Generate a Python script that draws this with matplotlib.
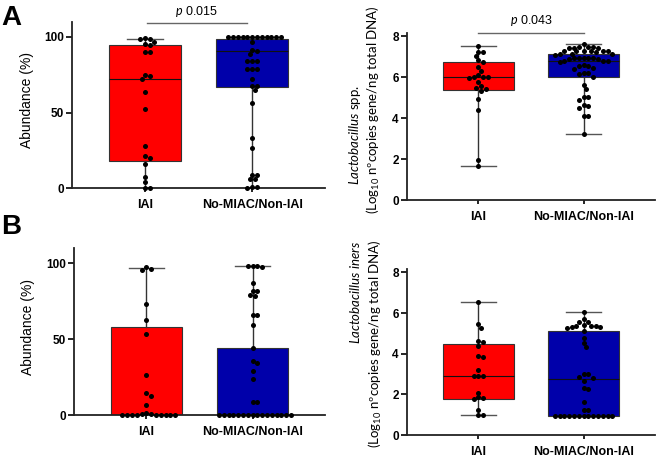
import matplotlib
matplotlib.use('Agg')
import matplotlib.pyplot as plt
import numpy as np

plt.rcParams['font.family'] = ['Liberation Sans', 'DejaVu Sans']
plt.rcParams['mathtext.fontset'] = 'custom'
plt.rcParams['mathtext.rm'] = 'Lato'
plt.rcParams['mathtext.it'] = 'Lato:italic'

groups = ['IAI', 'No-MIAC/Non-IAI']
box_colors = ['#FF0000', '#0000AA']

# panel A, left: abundance (%)
abund_a_iai = [99.0, 98.8, 98.5, 96.6, 95.0, 94.8, 90.0, 89.8, 74.5, 74.0, 71.9,
               63.9, 52.4, 28.1, 21.6, 20.3, 15.9, 7.7, 4.0, 0.5, 0.0]
abund_a_non = [100, 100, 100, 100, 100, 100, 100, 100, 100, 100, 100, 100,
               96.5, 91.0, 90.5, 88.5, 84.0, 84.0, 84.0, 79.0, 79.0, 79.0, 72.0,
               67.5, 67.5, 64.8, 56.0, 33.2, 26.5, 8.8, 8.8, 6.2, 6.2, 1.1, 1.1, 0.0]
# panel A, right: Lactobacillus spp. (log10 copies)
spp_iai = [7.51, 7.24, 7.20, 7.04, 6.83, 6.75, 6.47, 6.28, 6.08, 6.00, 5.98, 5.98,
           5.97, 5.77, 5.58, 5.45, 5.40, 5.33, 4.91, 4.37, 1.94, 1.64]
spp_non = [7.62, 7.46, 7.45, 7.44, 7.43, 7.45, 7.44, 7.28, 7.27, 7.26, 7.25, 7.28,
           7.26, 7.24, 7.12, 7.10, 7.13, 7.11, 6.92, 6.91, 6.93, 6.90, 6.92, 6.89,
           6.91, 6.78, 6.76, 6.74, 6.77, 6.55, 6.57, 6.53, 6.42, 6.40, 6.18, 6.20,
           6.16, 6.02, 5.61, 5.40, 5.05, 5.02, 4.88, 4.63, 4.60, 4.50, 4.12, 4.10, 3.22]
# panel B, left: abundance (%)
abund_b_iai = [97.5, 96.5, 96.0, 73.4, 63.0, 53.7, 26.5, 14.8, 12.6, 6.6,
               1.0, 0.5, 0.3, 0, 0, 0, 0, 0, 0, 0, 0, 0.8]
abund_b_non = [98.6, 98.4, 98.2, 97.6, 87.0, 82.0, 81.6, 79.2, 78.8, 66.0, 65.8,
               59.7, 44.2, 35.8, 34.3, 29.2, 23.9, 8.5, 8.3,
               0, 0, 0, 0, 0, 0, 0, 0, 0, 0, 0, 0, 0, 0, 0, 0]
# panel B, right: Lactobacillus iners (log10 copies)
iners_iai = [6.53, 5.47, 5.27, 4.60, 4.55, 4.38, 3.87, 3.82, 3.22, 2.92, 2.90, 2.90,
             2.07, 1.85, 1.80, 1.78, 1.25, 0.97, 0.97]
iners_non = [6.05, 5.73, 5.58, 5.55, 5.40, 5.38, 5.36, 5.34, 5.32, 5.30, 5.25, 5.10,
             4.78, 4.54, 4.34, 3.02, 2.98, 2.85, 2.82, 2.68, 2.30, 2.27, 1.64, 1.23,
             1.22] + [0.93] * 13

# box stats: q1, median, q3, min, max
stats_a_left = [(17.7, 71.9, 94.6, 0.0, 98.8), (66.8, 90.9, 98.8, 0.0, 100.0)]
stats_a_right = [(5.37, 6.00, 6.72, 1.64, 7.51), (6.02, 6.78, 7.12, 3.22, 7.61)]
stats_b_left = [(0.0, 0.0, 58.2, 0.0, 97.1), (0.0, 0.0, 44.2, 0.0, 98.4)]
stats_b_right = [(1.77, 2.92, 4.49, 0.97, 6.53), (0.93, 2.74, 5.13, 0.93, 6.06)]


def swarm_x(ax, center, vals, dot_px):
    trans = ax.transData
    vals = np.asarray(vals, dtype=float)
    pts = trans.transform(np.column_stack([np.full(len(vals), center), vals]))
    step = dot_px * 0.5
    placed = []
    xs = np.zeros(len(vals))
    for i in np.argsort(-vals, kind='stable'):
        px, py = pts[i]
        k = 0
        while True:
            off = ((k + 1) // 2) * step * (1 if k % 2 else -1)
            ok = all((px + off - qx) ** 2 + (py - qy) ** 2 >= (dot_px * 0.92) ** 2
                     for qx, qy in placed)
            if ok:
                break
            k += 1
        placed.append((px + off, py))
        xs[i] = trans.inverted().transform((px + off, py))[0]
    return xs


def draw_panel(ax, stats, data, ylim, yticks):
    ax.set_xlim(-0.68, 1.68)
    ax.set_ylim(*ylim)
    bxp_stats = []
    for q1, med, q3, lo, hi in stats:
        bxp_stats.append({'q1': q1, 'med': med, 'q3': q3, 'whislo': lo,
                          'whishi': hi, 'fliers': []})
    bp = ax.bxp(bxp_stats, positions=[0, 1], widths=0.67, patch_artist=True,
                showfliers=False, manage_ticks=False,
                boxprops=dict(edgecolor='#333333', linewidth=0.8),
                medianprops=dict(color='#111111', linewidth=0.8),
                whiskerprops=dict(color='#333333', linewidth=1.0),
                capprops=dict(color='#555555', linewidth=1.0),
                capwidths=0.33)
    for patch, c in zip(bp['boxes'], box_colors):
        patch.set_facecolor(c)
    for pos, vals in enumerate(data):
        xs = swarm_x(ax, pos, vals, 4.8)
        ax.scatter(xs, vals, s=13, color='black', zorder=5, linewidths=0,
                   clip_on=False)
    ax.spines['top'].set_visible(False)
    ax.spines['right'].set_visible(False)
    for side in ['left', 'bottom']:
        ax.spines[side].set_linewidth(1.3)
        ax.spines[side].set_color('#222222')
    ax.set_yticks(yticks)
    ax.set_xticks([0, 1])
    ax.set_xticklabels(groups, fontsize=9, fontweight='bold')
    ax.tick_params(axis='y', labelsize=8.5, length=4, width=1.2, pad=2)
    ax.tick_params(axis='x', length=3, width=1.2, pad=5)
    for lab in ax.get_yticklabels():
        lab.set_fontweight('bold')


W, H = 657, 459
fig = plt.figure(figsize=(W / 100, H / 100), dpi=100)


def rect(x0, y_top, x1, y0):
    return [x0 / W, 1 - y0 / H, (x1 - x0) / W, (y0 - y_top) / H]


ax1 = fig.add_axes(rect(72, 21.7, 325, 188.3))
ax2 = fig.add_axes(rect(407, 33, 655, 200))
ax3 = fig.add_axes(rect(74, 248.3, 325, 415))
ax4 = fig.add_axes(rect(407, 269.3, 655, 435))

draw_panel(ax1, stats_a_left, [abund_a_iai, abund_a_non], (0, 110), [0, 50, 100])
draw_panel(ax2, stats_a_right, [spp_iai, spp_non], (0, 8.15), [0, 2, 4, 6, 8])
draw_panel(ax3, stats_b_left, [abund_b_iai, abund_b_non], (0, 110), [0, 50, 100])
draw_panel(ax4, stats_b_right, [iners_iai, iners_non], (0, 8.15), [0, 2, 4, 6, 8])

# significance brackets
ax1.plot([0.02, 0.95], [109, 109], color='#666666', lw=1, clip_on=False)
ax1.text(0.485, 117, r'$\mathit{p}$ 0.015', ha='center', va='center', fontsize=9)
ax2.plot([0, 1], [8.16, 8.16], color='#666666', lw=1, clip_on=False)
ax2.text(0.5, 8.78, r'$\mathit{p}$ 0.043', ha='center', va='center', fontsize=9)

# axis titles
fig.text(27 / W, 1 - 100 / H, 'Abundance (%)', rotation=90, ha='center',
         va='center', fontsize=10)
fig.text(28 / W, 1 - 327 / H, 'Abundance (%)', rotation=90, ha='center',
         va='center', fontsize=10)
fig.text(355 / W, 1 - 135 / H, r'$\mathit{Lactobacillus}$ spp.', rotation=90,
         ha='center', va='center', fontsize=9.5, family='Lato')
fig.text(373 / W, 1 - 110 / H, r'(Log$_{10}$ nºcopies gene/ng total DNA)',
         rotation=90, ha='center', va='center', fontsize=9.5, family='Lato')
fig.text(355 / W, 1 - 292 / H, r'$\mathit{Lactobacillus\ iners}$', rotation=90,
         ha='center', va='center', fontsize=9.5, family='Lato')
fig.text(375 / W, 1 - 344 / H, r'(Log$_{10}$ nºcopies gene/ng total DNA)',
         rotation=90, ha='center', va='center', fontsize=9.5, family='Lato')

# panel letters
fig.text(11 / W, 1 - 18 / H, 'A', ha='center', va='center', fontsize=20,
         fontweight='bold')
fig.text(11 / W, 1 - 227 / H, 'B', ha='center', va='center', fontsize=20,
         fontweight='bold')

fig.savefig('out.png', dpi=100)
